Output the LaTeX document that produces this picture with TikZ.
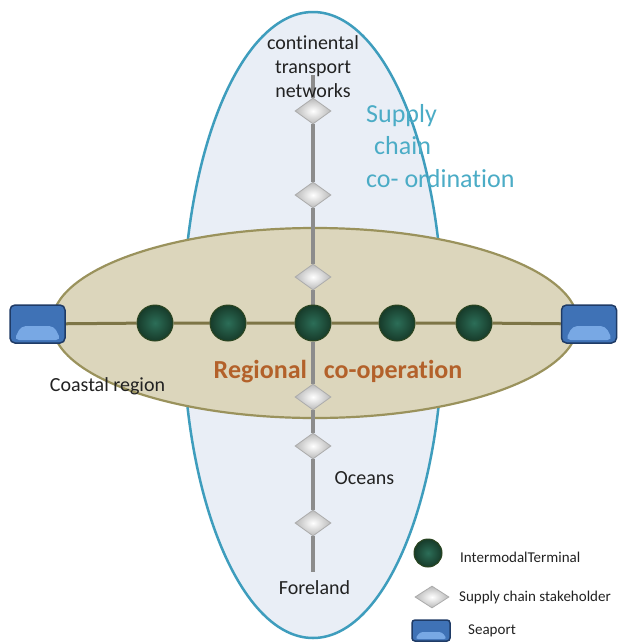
\documentclass[tikz,border=0pt]{standalone}
\usepackage{fontspec}
\setmainfont{Carlito}[RawFeature={-liga;-clig;-calt;-dlig}]
\usetikzlibrary{shapes.geometric}
\pgfdeclarelayer{back}
\pgfdeclarelayer{mid}
\pgfsetlayers{back,mid,main}
\definecolor{vfill}{HTML}{E9EEF6}
\definecolor{vborder}{HTML}{3E9DBD}
\definecolor{hfill}{HTML}{DCD6BC}
\definecolor{hborder}{HTML}{9A925C}
\definecolor{hline}{HTML}{7D7546}
\definecolor{vline}{HTML}{8C8C8C}
\definecolor{termin}{HTML}{2C6E58}
\definecolor{termout}{HTML}{173B2A}
\definecolor{termedge}{HTML}{2B4520}
\definecolor{portblue}{HTML}{3F72B6}
\definecolor{portlight}{HTML}{78A8E4}
\definecolor{portdark}{HTML}{1F3B66}
\definecolor{scblue}{HTML}{4BACC6}
\definecolor{regbrown}{HTML}{B3612A}
\definecolor{txt}{HTML}{222222}
\begin{document}
\begin{tikzpicture}[x=1pt,y=-1pt,
  vell/.style={fill=vfill,draw=vborder,line width=2.5pt},
  hell/.style={fill=hfill,draw=hborder,line width=2.2pt},
  hconn/.style={draw=hline,line width=3pt},
  vconn/.style={draw=vline,line width=4pt},
  terminal/.style={circle,inner sep=0pt,minimum size=36pt,draw=termedge,line width=1pt,inner color=termin,outer color=termout},
  smallterminal/.style={terminal,minimum size=28pt},
  stakeholder/.style={diamond,aspect=1.4,inner sep=0pt,minimum width=36pt,minimum height=26pt,draw=gray!65,line width=0.8pt,inner color=white,outer color=gray!55},
  smallstakeholder/.style={stakeholder,minimum width=34pt,minimum height=22pt},
  portbase/.style={rectangle,rounded corners=5pt,fill=portblue,draw=portdark,line width=1.5pt,inner sep=0pt},
  seaport/.style={portbase,minimum width=55pt,minimum height=38pt,
    path picture={\fill[portlight] ([xshift=4pt,yshift=3pt]path picture bounding box.south west) -- ([xshift=-4pt,yshift=3pt]path picture bounding box.south east) -- ([xshift=-11pt,yshift=17pt]path picture bounding box.south east) -- ([xshift=11pt,yshift=17pt]path picture bounding box.south west) -- cycle;}},
  smallport/.style={portbase,rounded corners=3pt,minimum width=38pt,minimum height=21pt,
    path picture={\fill[portlight] ([xshift=3pt,yshift=2pt]path picture bounding box.south west) -- ([xshift=-3pt,yshift=2pt]path picture bounding box.south east) -- ([xshift=-8pt,yshift=9pt]path picture bounding box.south east) -- ([xshift=8pt,yshift=9pt]path picture bounding box.south west) -- cycle;}},
  lbl/.style={text=txt,inner sep=0pt,font=\fontsize{20}{24}\selectfont,align=center},
  leg/.style={text=txt,inner sep=0pt,anchor=west,font=\fontsize{15}{18}\selectfont}
]
\useasboundingbox (0,0) rectangle (626,643);
\begin{pgfonlayer}{back}
\fill[white] (0,0) rectangle (626,643);
\draw[vell] (313,325) ellipse [x radius=130, y radius=313];
\draw[hell] (315,323) ellipse [x radius=263, y radius=95];
\end{pgfonlayer}

% seaports
\node[seaport] (pL) at (37.5,324) {};
\node[seaport] (pR) at (589,324) {};
% terminals
\node[terminal] (t1) at (155,323) {};
\node[terminal] (t2) at (228,323) {};
\node[terminal] (t3) at (313,323) {};
\node[terminal] (t4) at (397,323) {};
\node[terminal] (t5) at (474,323) {};
% stakeholders
\node[stakeholder] (d1) at (313,111) {};
\node[stakeholder] (d2) at (313,195) {};
\node[stakeholder] (d3) at (313,277) {};
\node[stakeholder] (d4) at (313,397) {};
\node[stakeholder] (d5) at (313,446) {};
\node[stakeholder] (d6) at (313,523) {};
\coordinate (vtop) at (313,75);
\coordinate (vbot) at (313,572);

\begin{pgfonlayer}{mid}
\draw[hconn] (pL) -- (t1) -- (t2) -- (t3) -- (t4) -- (t5) -- (pR);
\draw[vconn] (vtop) -- (d1) -- (d2) -- (d3) -- (t3) -- (d4) -- (d5) -- (d6) -- (vbot);
\end{pgfonlayer}

% texts
\node[lbl] (cont) at (313,67) {continental\\transport\\networks};
\node[inner sep=0pt,anchor=west,align=left,text=scblue,font=\fontsize{26}{32.5}\selectfont] (sc) at (366,146) {Supply\\\hspace*{8pt}chain\\co- ordinat\kern0pt ion};
\node[inner sep=0pt,text=regbrown,font=\fontsize{26}{30}\selectfont\bfseries] (reg) at (338,372) {Regional\hspace{17pt}co-operat\kern0pt ion};
\node[lbl] (coast) at (107.5,386) {Coastal region};
\node[lbl] (ocean) at (364.5,478) {Oceans};
\node[lbl] (fore) at (314.5,588) {Foreland};

% legend
\node[smallterminal] (lt) at (428,553) {};
\node[leg] (ltt) at (460,557) {IntermodalTerminal};
\node[smallstakeholder] (ld) at (432,597) {};
\node[leg] (ldt) at (459,597) {Supply chain stakeholder};
\node[smallport] (lp) at (431,630.5) {};
\node[leg] (lpt) at (468,631) {Seaport};
\end{tikzpicture}
\end{document}
